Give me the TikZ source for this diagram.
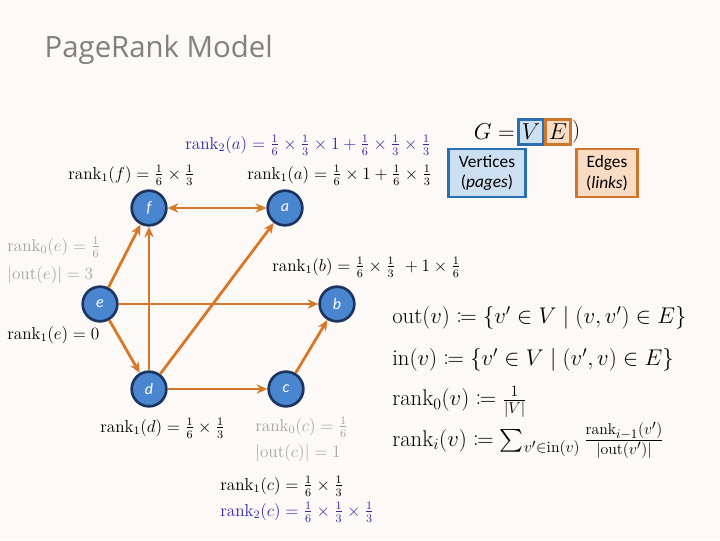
\documentclass[tikz,border=0pt]{standalone}
\usepackage{amsmath,mathtools}
\usepackage{fontspec}
\usetikzlibrary{arrows.meta}
\newfontfamily\carlito{Carlito}
\newfontfamily\titlefont{Open Sans}
\definecolor{bgcol}{RGB}{253,249,246}
\definecolor{pagefill}{RGB}{74,134,208}
\definecolor{pagedraw}{RGB}{28,52,96}
\definecolor{linkcol}{RGB}{215,120,40}
\definecolor{vfill}{RGB}{204,224,242}
\definecolor{vdraw}{RGB}{40,112,178}
\definecolor{efill}{RGB}{250,220,196}
\definecolor{edraw}{RGB}{206,118,44}
\definecolor{rankblue}{RGB}{52,42,165}
\definecolor{rankgray}{RGB}{165,165,165}
\begin{document}
\begin{tikzpicture}
        [x=0.75pt, y=-0.75pt,
        page/.style={circle, draw=pagedraw, fill=pagefill, line width=2pt, minimum size=26pt, inner sep=0pt, text=white, font=\carlito\itshape\fontsize{12}{14}\selectfont},
        link/.style={linkcol, line width=2.1pt, -{Stealth[length=8pt, width=7pt]}},
        lbl/.style={anchor=west, inner sep=0pt, scale=1.075, font=\fontsize{12}{14}\selectfont},
        blbl/.style={lbl, text=rankblue},
        glbl/.style={lbl, text=rankgray},
        defn/.style={anchor=west, inner sep=0pt, scale=0.985, font=\fontsize{17.28}{20}\selectfont},
        setbox/.style={line width=1.8pt, inner sep=0pt, font=\carlito\fontsize{13}{15.5}\selectfont, align=center}]

        % background
        \fill[bgcol] (0,0) rectangle (720,540);
        \useasboundingbox (0,0) rectangle (720,540);

        % title
        \node[anchor=west, text=gray, font=\titlefont\fontsize{22}{26}\selectfont] (title) at (40,50) {PageRank Model};

        % pages
        \node[page] (f) at (149,208) {f};
        \node[page] (a) at (285,208) {a};
        \node[page] (e) at (100,304) {e};
        \node[page] (b) at (337,304) {b};
        \node[page] (d) at (149,389) {d};
        \node[page] (c) at (286,389) {c};

        % links
        \draw[link, {Stealth[length=8pt, width=7pt]}-{Stealth[length=8pt, width=7pt]}] (f) -- (a);
        \draw[link] (e) -- (f);
        \draw[link] (d) -- (f);
        \draw[link] (d) -- (a);
        \draw[link] (e) -- (b);
        \draw[link] (e) -- (d);
        \draw[link] (d) -- (c);
        \draw[link] (c) -- (b);

        % rank labels
        \node[blbl] (ra2) at (185,145) {$\mathrm{rank}_2(a) = \frac{1}{6}\times\frac{1}{3}\times 1 + \frac{1}{6}\times\frac{1}{3}\times\frac{1}{3}$};
        \node[lbl] (rf1) at (68,175) {$\mathrm{rank}_1(f) = \frac{1}{6}\times\frac{1}{3}$};
        \node[lbl] (ra1) at (247,175) {$\mathrm{rank}_1(a) = \frac{1}{6}\times 1 + \frac{1}{6}\times\frac{1}{3}$};
        \node[glbl] (re0) at (7,247) {$\mathrm{rank}_0(e) = \frac{1}{6}$};
        \node[glbl] (oute) at (7,275) {$|\mathrm{out}(e)| = 3$};
        \node[lbl] (rb1) at (272,267) {$\mathrm{rank}_1(b) = \frac{1}{6}\times\frac{1}{3}\ + 1\times\frac{1}{6}$};
        \node[lbl] (re1) at (7,335) {$\mathrm{rank}_1(e) = 0$};
        \node[lbl] (rd1) at (100,428) {$\mathrm{rank}_1(d) = \frac{1}{6}\times\frac{1}{3}$};
        \node[glbl] (rc0) at (255,427) {$\mathrm{rank}_0(c) = \frac{1}{6}$};
        \node[glbl] (outc) at (255,453) {$|\mathrm{out}(c)| = 1$};
        \node[lbl] (rc1) at (220,486) {$\mathrm{rank}_1(c) = \frac{1}{6}\times\frac{1}{3}$};
        \node[blbl] (rc2) at (220,512) {$\mathrm{rank}_2(c) = \frac{1}{6}\times\frac{1}{3}\times\frac{1}{3}$};

        % graph G = (V, E)
        \node[anchor=east, inner sep=0pt, font=\fontsize{17.28}{20}\selectfont] (G) at (515,132) {$G=$};
        \node[setbox, fill=vfill, draw=vdraw, minimum width=19pt, minimum height=19pt, font=\fontsize{17.28}{20}\selectfont] (V) at (531,132) {$V$};
        \node[setbox, fill=efill, draw=edraw, minimum width=19pt, minimum height=19pt, font=\fontsize{17.28}{20}\selectfont] (E) at (558,132) {$E$};
        \node[anchor=west, inner sep=0pt, font=\fontsize{17.28}{20}\selectfont] (cl) at (E.east) {$)$};
        \node[setbox, fill=vfill, draw=vdraw, minimum width=58pt, minimum height=36pt] (vert) at (487,173) {Vertices\\(\textit{pages})};
        \node[setbox, fill=efill, draw=edraw, minimum width=46pt, minimum height=36pt] (edg) at (607,173) {Edges\\(\textit{links})};

        % definitions
        \node[defn] (out) at (392,318) {$\mathrm{out}(v) \coloneqq \{v' \in V \mid (v,v') \in E\}$};
        \node[defn] (in) at (392,360) {$\mathrm{in}(v) \coloneqq \{v' \in V \mid (v',v) \in E\}$};
        \node[defn] (r0) at (392,402) {$\mathrm{rank}_0(v) \coloneqq \frac{1}{|V|}$};
        \node[defn] (ri) at (392,440) {$\mathrm{rank}_i(v) \coloneqq \sum_{v'\in\mathrm{in}(v)} \frac{\mathrm{rank}_{i-1}(v')}{|\mathrm{out}(v')|}$};

        \end{tikzpicture}
\end{document}
